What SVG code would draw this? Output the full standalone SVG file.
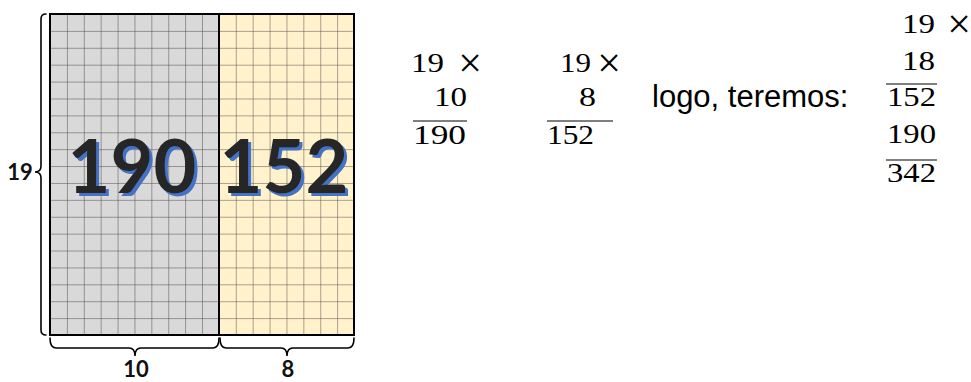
<svg xmlns="http://www.w3.org/2000/svg" width="971" height="382" viewBox="0 0 971 382">
<style>
.grid{stroke:#262626;stroke-width:1;fill:none}
.brace{stroke:#000;stroke-width:1.6;fill:none;stroke-linecap:round}
.lab{font-family:Lato,"Open Sans",sans-serif;font-weight:bold;font-size:22px;fill:#111;text-anchor:middle}
.big{font-family:Lato,"Open Sans",sans-serif;font-weight:bold;font-size:74px;text-anchor:middle;fill:#262626;filter:url(#sh)}
.m{font-family:"Liberation Serif",serif;font-size:28px;fill:#000;text-anchor:end}
.x{font-family:"Liberation Serif",serif;font-size:42px;fill:#000;text-anchor:middle}
.bar{stroke:#000;stroke-width:1.2}
.t{font-family:"Liberation Sans",Arial,sans-serif;font-size:31px;fill:#000}
</style>
<defs>
<pattern id="cells" x="50" y="14" width="16.889" height="16.895" patternUnits="userSpaceOnUse">
<path d="M0,0 H16.889 M0,0 V16.895" class="grid"/>
</pattern>
<filter id="sh" x="-10%" y="-10%" width="130%" height="130%">
<feFlood flood-color="#4472C4"/>
<feComposite in2="SourceAlpha" operator="in"/>
<feOffset dx="2.5" dy="2.5"/>
<feMerge><feMergeNode/><feMergeNode in="SourceGraphic"/></feMerge>
</filter>
</defs>
<g id="area-gray">
<rect x="50" y="14" width="169" height="321" fill="#D9D9D9"/>
</g>
<g id="area-yellow">
<rect x="219" y="14" width="135" height="321" fill="#FFF2CC"/>
</g>
<g id="grid">
<rect x="50" y="14" width="304" height="321" fill="url(#cells)" opacity="0.8"/>
<rect x="50" y="14" width="304" height="321" fill="none" stroke="#000" stroke-width="2"/>
<line x1="219" y1="14" x2="219" y2="335" stroke="#000" stroke-width="2"/>
</g>
<g id="numbers-big">
<text class="big" x="132" y="193">190</text>
<text class="big" x="284" y="193">152</text>
</g>
<g id="connectors">
<path class="brace" d="M46,14 Q41,14 41,19 L41,166 Q41,172 35,172 Q41,172 41,178 L41,330 Q41,335 46,335"/>
<path class="brace" d="M50,338 Q50,348 56,348 L129,348 Q135,348 135,356 Q135,348 141,348 L213,348 Q219,348 219,338"/>
<path class="brace" d="M220,338 Q220,348 226,348 L281,348 Q287,348 287,356 Q287,348 293,348 L348,348 Q354,348 354,338"/>
</g>
<g id="labels">
<text class="lab" x="20" y="180">19</text>
<text class="lab" x="136" y="377">10</text>
<text class="lab" x="288" y="377">8</text>
</g>
<g id="calc-10">
<text class="m" x="444" y="72" textLength="33" lengthAdjust="spacingAndGlyphs">19</text>
<text class="x" x="470" y="77">×</text>
<text class="m" x="467" y="106" textLength="33" lengthAdjust="spacingAndGlyphs">10</text>
<line class="bar" x1="413" y1="121" x2="467" y2="121"/>
<text class="m" x="466" y="144" textLength="53" lengthAdjust="spacingAndGlyphs">190</text>
</g>
<g id="calc-8">
<text class="m" x="591" y="72" textLength="31" lengthAdjust="spacingAndGlyphs">19</text>
<text class="x" x="609" y="77">×</text>
<text class="m" x="596" y="106" textLength="17" lengthAdjust="spacingAndGlyphs">8</text>
<line class="bar" x1="547" y1="121" x2="613" y2="121"/>
<text class="m" x="594" y="144" textLength="47" lengthAdjust="spacingAndGlyphs">152</text>
</g>
<g id="text-logo">
<text class="t" x="652" y="107">logo, teremos:</text>
</g>
<g id="calc-18">
<text class="m" x="935" y="33" textLength="33" lengthAdjust="spacingAndGlyphs">19</text>
<text class="x" x="959" y="38">×</text>
<text class="m" x="935" y="70" textLength="33" lengthAdjust="spacingAndGlyphs">18</text>
<line class="bar" x1="886" y1="84" x2="937" y2="84"/>
<text class="m" x="936" y="106" textLength="49" lengthAdjust="spacingAndGlyphs">152</text>
<text class="m" x="936" y="143" textLength="49" lengthAdjust="spacingAndGlyphs">190</text>
<line class="bar" x1="886" y1="160" x2="937" y2="160"/>
<text class="m" x="936" y="182" textLength="49" lengthAdjust="spacingAndGlyphs">342</text>
</g>
</svg>
